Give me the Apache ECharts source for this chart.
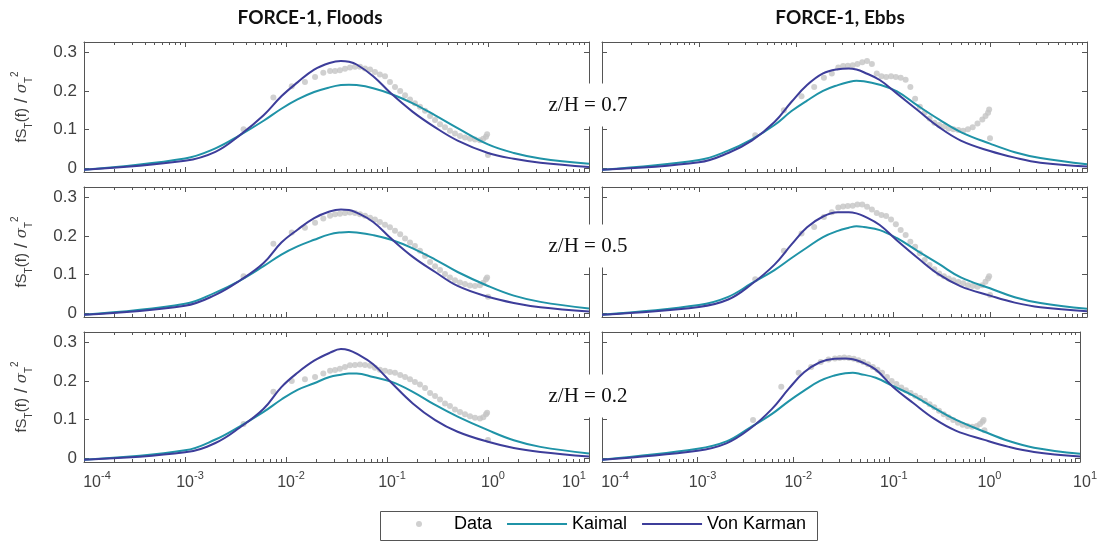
<!DOCTYPE html>
<html><head><meta charset="utf-8">
<script src="https://cdn.jsdelivr.net/npm/echarts@6/dist/echarts.min.js"></script>
<style>html,body{margin:0;padding:0;background:#fff}#c{width:1100px;height:542px}</style>
</head><body><div id="c"></div>
<script>
// ---------------- data ----------------
const modelFreq = [1e-4, 1e-3, 2e-3, 3.5e-3, 6e-3, 9e-3, 0.013, 0.019, 0.027, 0.035, 0.042, 0.05, 0.073, 0.11, 0.18, 0.3, 0.5, 1, 1.8, 3.3, 10];
const dataFreq = [0.0038, 0.0075, 0.0114, 0.0154, 0.0194, 0.0234, 0.0273, 0.0306, 0.0342, 0.0384, 0.043, 0.0482, 0.054, 0.0606, 0.068, 0.076, 0.085, 0.0955, 0.107, 0.12, 0.135, 0.151, 0.169, 0.189, 0.212, 0.238, 0.267, 0.299, 0.335, 0.375, 0.42, 0.471, 0.528, 0.592, 0.663, 0.743, 0.833, 0.899, 0.955, 0.98, 1.0];

const dataFloods07 = [0.101,0.183,0.212,0.223,0.236,0.247,0.251,0.251,0.253,0.257,0.26,0.262,0.262,0.258,0.255,0.249,0.242,0.238,0.223,0.21,0.2,0.189,0.178,0.168,0.159,0.149,0.135,0.125,0.114,0.106,0.097,0.09,0.084,0.08,0.077,0.075,0.073,0.077,0.082,0.088,0.035];
const dataEbbs07 = [0.086,0.15,0.186,0.21,0.234,0.245,0.26,0.264,0.265,0.266,0.269,0.274,0.277,0.269,0.245,0.238,0.236,0.238,0.236,0.234,0.229,0.21,0.18,0.159,0.144,0.129,0.118,0.112,0.108,0.103,0.101,0.099,0.097,0.101,0.106,0.116,0.126,0.135,0.144,0.152,0.078];
const dataFloods05 = [0.096,0.18,0.209,0.221,0.234,0.245,0.252,0.256,0.257,0.259,0.26,0.259,0.256,0.252,0.247,0.242,0.236,0.229,0.222,0.213,0.204,0.193,0.183,0.174,0.162,0.148,0.133,0.122,0.112,0.102,0.093,0.086,0.08,0.076,0.072,0.071,0.073,0.079,0.088,0.093,0.043];
const dataEbbs05 = [0.088,0.162,0.206,0.223,0.249,0.261,0.273,0.276,0.277,0.278,0.281,0.281,0.275,0.268,0.259,0.254,0.251,0.242,0.23,0.215,0.202,0.185,0.172,0.155,0.138,0.125,0.114,0.103,0.096,0.09,0.086,0.081,0.078,0.073,0.071,0.069,0.073,0.082,0.09,0.096,0.048];
const dataFloods02 = [0.089,0.172,0.2,0.204,0.21,0.219,0.226,0.228,0.231,0.236,0.24,0.241,0.242,0.241,0.239,0.234,0.229,0.226,0.223,0.221,0.215,0.21,0.204,0.197,0.191,0.182,0.169,0.161,0.152,0.142,0.135,0.126,0.12,0.114,0.109,0.105,0.103,0.106,0.114,0.118,0.048];
const dataEbbs02 = [0.099,0.185,0.221,0.236,0.249,0.255,0.258,0.259,0.26,0.259,0.257,0.253,0.249,0.243,0.236,0.229,0.221,0.21,0.2,0.192,0.183,0.176,0.169,0.162,0.156,0.149,0.14,0.132,0.123,0.114,0.106,0.099,0.092,0.087,0.084,0.082,0.084,0.089,0.095,0.099,0.073];

const kaimalFloods07 = [-0.003,0.026,0.052,0.086,0.123,0.154,0.178,0.197,0.209,0.215,0.216,0.215,0.207,0.192,0.168,0.137,0.104,0.062,0.04,0.026,0.012];
const vonKarmanFloods07 = [-0.003,0.02,0.043,0.086,0.137,0.186,0.222,0.255,0.272,0.277,0.275,0.268,0.238,0.193,0.146,0.106,0.072,0.04,0.025,0.015,0.004];
const kaimalEbbs07 = [-0.003,0.022,0.046,0.075,0.112,0.148,0.175,0.2,0.215,0.223,0.226,0.225,0.216,0.199,0.162,0.126,0.094,0.064,0.042,0.027,0.011];
const vonKarmanEbbs07 = [-0.003,0.016,0.04,0.072,0.12,0.172,0.215,0.245,0.256,0.258,0.255,0.248,0.228,0.193,0.15,0.106,0.072,0.045,0.028,0.015,0.005];
const kaimalFloods05 = [-0.003,0.025,0.054,0.085,0.122,0.152,0.173,0.19,0.204,0.209,0.21,0.209,0.202,0.19,0.168,0.139,0.107,0.071,0.046,0.03,0.013];
const vonKarmanFloods05 = [-0.003,0.02,0.048,0.085,0.13,0.183,0.216,0.246,0.263,0.268,0.267,0.26,0.236,0.193,0.146,0.107,0.071,0.043,0.027,0.016,0.005];
const kaimalEbbs05 = [-0.003,0.022,0.043,0.078,0.112,0.143,0.17,0.197,0.213,0.221,0.225,0.223,0.215,0.194,0.161,0.127,0.093,0.065,0.042,0.027,0.012];
const vonKarmanEbbs05 = [-0.003,0.017,0.036,0.076,0.126,0.178,0.222,0.25,0.261,0.261,0.258,0.251,0.228,0.188,0.143,0.1,0.07,0.046,0.028,0.016,0.006];
const kaimalFloods02 = [-0.003,0.021,0.049,0.083,0.12,0.152,0.177,0.194,0.21,0.216,0.219,0.219,0.21,0.198,0.172,0.138,0.108,0.073,0.047,0.03,0.013];
const vonKarmanFloods02 = [-0.003,0.016,0.04,0.08,0.128,0.184,0.221,0.252,0.272,0.282,0.279,0.27,0.243,0.196,0.142,0.099,0.069,0.043,0.027,0.017,0.005];
const kaimalEbbs02 = [-0.003,0.025,0.044,0.079,0.115,0.148,0.175,0.2,0.214,0.22,0.221,0.218,0.208,0.187,0.162,0.13,0.1,0.069,0.045,0.028,0.012];
const vonKarmanEbbs02 = [-0.003,0.02,0.039,0.076,0.128,0.18,0.222,0.248,0.257,0.258,0.256,0.25,0.229,0.185,0.143,0.102,0.072,0.048,0.03,0.017,0.005];

const columnTitles = ['FORCE-1, Floods', 'FORCE-1, Ebbs'];
const rowLabels = ['z/H = 0.7', 'z/H = 0.5', 'z/H = 0.2'];
const xTickExponents = [-4, -3, -2, -1, 0, 1];
const yTickValues = [0, 0.1, 0.2, 0.3];
const seriesNames = ['Data', 'Kaimal', 'Von Karman'];

// panels [row][col]
const panelData = [
  [[dataFloods07, kaimalFloods07, vonKarmanFloods07], [dataEbbs07, kaimalEbbs07, vonKarmanEbbs07]],
  [[dataFloods05, kaimalFloods05, vonKarmanFloods05], [dataEbbs05, kaimalEbbs05, vonKarmanEbbs05]],
  [[dataFloods02, kaimalFloods02, vonKarmanFloods02], [dataEbbs02, kaimalEbbs02, vonKarmanEbbs02]]
];

// ---------------- layout / style ----------------
const COLS = [{left: 84, width: 505}, {left: 602, width: 485}];
const ROWS = [42, 187, 332];
const PH = 130;
const YMIN = -0.009, YMAX = 0.326;
const XMIN = Math.pow(10, xTickExponents[0]), XMAX = Math.pow(10, xTickExponents[xTickExponents.length - 1]);
const AX = '#555555';
const LBL = '#404040';
const C_DATA = '#c4c4c4', C_K = '#1f93a7', C_VK = '#3d3d9a';
const SANS = 'Liberation Sans, Arial, sans-serif';
const LINE_ICON = 'path://M0,0L60,0L60,2L0,2Z';

const minorTicks = [];
for (let e = xTickExponents[0]; e < xTickExponents[xTickExponents.length - 1]; e++) {
  for (let m = 2; m <= 9; m++) minorTicks.push(m * Math.pow(10, e));
}

const option = {
  animation: false,
  backgroundColor: '#fff',
  grid: [], xAxis: [], yAxis: [], series: [], graphic: [],
  legend: {
    left: 416, top: 515, orient: 'horizontal', padding: 0,
    itemWidth: 60, itemHeight: 6, itemGap: 15,
    textStyle: {fontSize: 18, fontFamily: SANS, color: '#000'},
    data: [
      {name: 'Data', icon: 'circle'},
      {name: 'Kaimal', icon: LINE_ICON, itemStyle: {color: C_K}},
      {name: 'Von Karman', icon: LINE_ICON, itemStyle: {color: C_VK}}
    ]
  }
};

const richX = {
  b: {fontSize: 16, fontFamily: SANS, color: LBL, lineHeight: 26},
  s: {fontSize: 11, fontFamily: SANS, color: LBL, verticalAlign: 'top', lineHeight: 13},
  p: {width: 10, fontSize: 11},
  pl: {width: 26, fontSize: 11},
  pr: {width: 30, fontSize: 11}
};

let gi = 0;
for (let r = 0; r < 3; r++) {
  for (let c = 0; c < 2; c++) {
    const col = COLS[c];
    option.grid.push({left: col.left, top: ROWS[r], width: col.width, height: PH});
    const xBase = {type: 'log', logBase: 10, min: XMIN, max: XMAX, gridIndex: gi,
      splitLine: {show: false}, axisLine: {show: true, onZero: false, lineStyle: {color: AX, width: 1}}};
    const showX = (r === 2);
    const isLeft = (c === 0);
    // bottom major
    option.xAxis.push(Object.assign({}, xBase, {
      position: 'bottom',
      axisTick: {show: true, inside: true, length: 5, lineStyle: {color: AX}},
      axisLabel: {show: showX, margin: 8, rich: richX,
        formatter: function (v) {
          const e = Math.round(Math.log10(v));
          const body = '{b|10}{s|' + e + '}';
          if (e === xTickExponents[0]) return '{pl| }' + body;
          if (e === xTickExponents[xTickExponents.length - 1]) return isLeft ? body + '{pr| }' : '{p| }' + body;
          return '{p| }' + body;
        }}
    }));
    // bottom minor
    option.xAxis.push(Object.assign({}, xBase, {
      position: 'bottom', axisLine: {show: false, onZero: false},
      axisLabel: {show: false},
      axisTick: {show: true, inside: true, length: 3, customValues: minorTicks, lineStyle: {color: AX}}
    }));
    // top major
    option.xAxis.push(Object.assign({}, xBase, {
      position: 'top', axisLabel: {show: false},
      axisTick: {show: true, inside: true, length: 5, lineStyle: {color: AX}}
    }));
    // top minor
    option.xAxis.push(Object.assign({}, xBase, {
      position: 'top', axisLine: {show: false, onZero: false}, axisLabel: {show: false},
      axisTick: {show: true, inside: true, length: 3, customValues: minorTicks, lineStyle: {color: AX}}
    }));
    const yBase = {type: 'value', min: YMIN, max: YMAX, gridIndex: gi, splitLine: {show: false},
      axisLine: {show: true, onZero: false, lineStyle: {color: AX, width: 1}}};
    option.yAxis.push(Object.assign({}, yBase, {
      position: 'left',
      axisTick: {show: true, inside: true, length: 5, customValues: yTickValues, lineStyle: {color: AX}},
      axisLabel: {show: isLeft, customValues: yTickValues, margin: 7, fontSize: 17, fontFamily: SANS, color: LBL,
        formatter: function (v) { return v === 0 ? '0' : String(Math.round(v * 10) / 10); }},
      name: isLeft ? '{a|fS}{sub|T}{a|(f)}{sl| /}{g| σ}{sub|T}{sup|2}' : '',
      nameLocation: 'middle', nameRotate: 90, nameGap: 50,
      nameTextStyle: {color: LBL, fontFamily: SANS, rich: {
        a: {fontSize: 15, fontFamily: SANS, color: LBL, lineHeight: 24},
        g: {fontSize: 15, fontFamily: 'DejaVu Serif, serif', fontStyle: 'italic', color: LBL, lineHeight: 24},
        sl: {fontSize: 18, fontFamily: SANS, color: LBL, lineHeight: 24},
        sub: {fontSize: 10, fontFamily: SANS, color: LBL, verticalAlign: 'bottom', lineHeight: 12},
        sup: {fontSize: 10, fontFamily: SANS, color: LBL, verticalAlign: 'top', lineHeight: 12}
      }}
    }));
    option.yAxis.push(Object.assign({}, yBase, {
      position: 'right', axisLabel: {show: false},
      axisTick: {show: true, inside: true, length: 5, customValues: yTickValues, lineStyle: {color: AX}}
    }));

    const [dVals, kVals, vkVals] = panelData[r][c];
    const xi = gi * 4, yi = gi * 2;
    option.series.push({
      name: seriesNames[0], type: 'scatter', xAxisIndex: xi, yAxisIndex: yi,
      symbol: 'circle', symbolSize: 6, itemStyle: {color: C_DATA}, z: 2,
      data: dataFreq.map((f, i) => [f, dVals[i]])
    });
    option.series.push({
      name: seriesNames[1], type: 'line', xAxisIndex: xi, yAxisIndex: yi,
      symbol: 'none', showSymbol: false, smooth: 0.4, z: 3,
      lineStyle: {color: C_K, width: 2}, itemStyle: {color: C_K},
      data: modelFreq.map((f, i) => [f, kVals[i]])
    });
    option.series.push({
      name: seriesNames[2], type: 'line', xAxisIndex: xi, yAxisIndex: yi,
      symbol: 'none', showSymbol: false, smooth: 0.4, z: 4,
      lineStyle: {color: C_VK, width: 2}, itemStyle: {color: C_VK},
      data: modelFreq.map((f, i) => [f, vkVals[i]])
    });
    gi++;
  }
}

// titles
const titleCenters = [310, 840];
columnTitles.forEach((t, i) => {
  option.graphic.push({type: 'text', x: titleCenters[i], y: 18, z: 100,
    style: {text: t, x: 0, y: 0, align: 'center', verticalAlign: 'middle',
      font: 'bold 19px Lato, "Open Sans", sans-serif', fill: '#111'}});
});
// row labels (with white background covering axes)
const rowLabelY = [105, 246, 396];
rowLabels.forEach((t, i) => {
  option.graphic.push({type: 'text', x: 588, y: rowLabelY[i], z: 100,
    style: {text: t, align: 'center', verticalAlign: 'middle',
      font: '21px "Liberation Serif", "DejaVu Serif", serif', fill: '#111',
      backgroundColor: '#fff', padding: [11, 3, 11, 3]}});
});
// legend box
option.graphic.push({type: 'rect', z: 50, shape: {x: 380.5, y: 511.5, width: 437, height: 29},
  style: {fill: 'rgba(0,0,0,0)', stroke: '#555', lineWidth: 1}});

const chart = echarts.init(document.getElementById('c'), null, {renderer: 'canvas'});
chart.setOption(option);
</script>
</body></html>
